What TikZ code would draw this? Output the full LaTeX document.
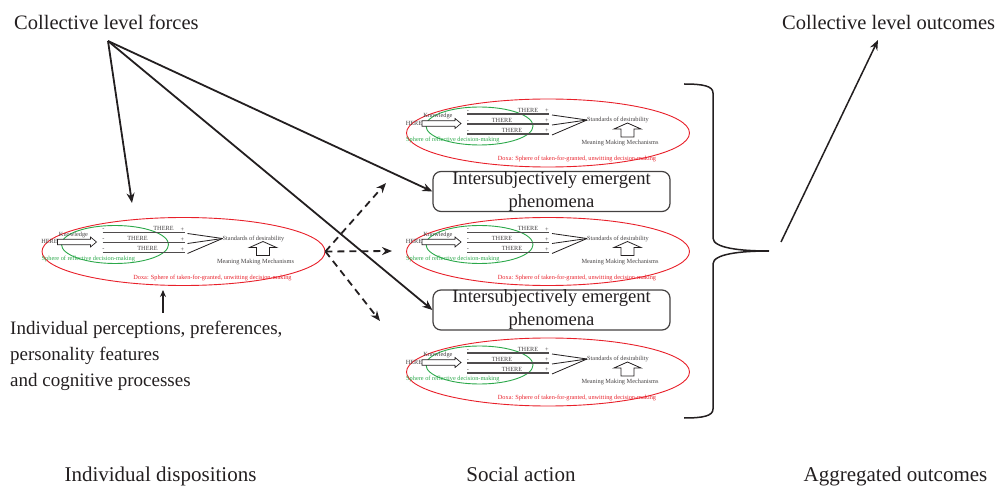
\documentclass[tikz,border=0pt]{standalone}
\usepackage{fontspec}
\setmainfont{Liberation Serif}
\usetikzlibrary{shapes.geometric,arrows.meta}
\definecolor{ink}{HTML}{231F20}
\definecolor{doxared}{HTML}{E8202A}
\definecolor{reflgreen}{HTML}{2BA84A}

\tikzset{
  lbl/.style={text=ink, inner sep=0pt, font=\fontsize{20.5}{24}\selectfont},
  foot/.style={text=ink, inner sep=0pt, font=\fontsize{21}{24}\selectfont},
  mini/.style={text=ink!85, inner sep=0pt, font=\fontsize{6.3}{7}\selectfont},
  miniline/.style={draw=ink!80, line width=1.1pt},
  doxa/.style={draw=doxared, line width=0.9pt, ellipse, inner sep=0pt,
    minimum width=283pt, minimum height=68pt},
  refl/.style={draw=reflgreen, line width=0.9pt, ellipse, inner sep=0pt,
    minimum width=107pt, minimum height=38pt},
  force/.style={draw=ink, line width=1.8pt, -{Stealth[length=10pt,width=8pt]}},
  dasharrow/.style={draw=ink, line width=1.8pt, dash pattern=on 7pt off 5pt,
    -{Stealth[length=10pt,width=8pt]}},
  emerg/.style={draw=ink!85, line width=1.2pt, rounded corners=8pt,
    minimum width=237pt, minimum height=40pt, inner sep=0pt, align=center,
    text=ink, font=\fontsize{18.6}{23}\selectfont},
  % one disposition cluster: doxa sphere, reflective sphere and the
  % HERE -> THERE -> standards scheme
  dispo/.pic={
    \node[doxa] (-doxa) at (0,0) {};
    \node[refl] (-refl) at (-68.5,-7) {};
    \node[mini] (-here) at (-134,-10) {HERE};
    \draw[ink, line width=0.7pt, fill=white]
      (-126,-12.2) -- (-93,-12.2) -- (-93,-14.5) -- (-87,-9.5)
      -- (-93,-4.5) -- (-93,-6.8) -- (-126,-6.8) -- cycle;
    \node[mini] (-know) at (-110,-17) {Knowledge};
    \node[mini, anchor=west] (-std) at (39,-13) {Standards of desirability};
    \foreach \yy/\tx/\i in {-19/-20/1, -9/-46/2, 1/-36/3}{
      \draw[miniline] (-81,\yy) -- (1,\yy);
      \node[mini] (-minus\i) at (-80,\yy-2.5) {-};
      \node[mini] (-plus\i) at (-1,\yy-3) {+};
      \node[mini] (-there\i) at (\tx,\yy-4) {THERE};
      \draw[ink, line width=0.8pt] (4,\yy+1) -- (-std.west);
    }
    \draw[ink, line width=0.8pt, fill=white]
      (73,4) -- (73,-4) -- (66,-4) -- (79.5,-10) -- (93,-4) -- (86,-4)
      -- (86,4) -- cycle;
    \node[mini] (-mmm) at (72,10) {Meaning Making Mechanisms};
    \node[mini, text=reflgreen, anchor=west] (-sph) at (-142,7)
      {Sphere of reflective decision-making};
    \node[mini, text=doxared] (-dx) at (29,26)
      {Doxa: Sphere of taken-for-granted, unwitting decision-making};
  }
}

\begin{document}
\begin{tikzpicture}[x=1pt, y={(0pt,-1pt)}]
  \useasboundingbox (0,0) rectangle (996,486);

  % headings
  \node[lbl, anchor=base west] (forces) at (14,30) {Collective level forces};
  \node[lbl, anchor=base west] (outcomes) at (782,30) {Collective level outcomes};

  % clusters
  \pic (L)  at (183.5,251.5) {dispo};
  \pic (S1) at (548,133)     {dispo};
  \pic (S2) at (548,251.5)   {dispo};
  \pic (S3) at (548,372)     {dispo};

  % emergent phenomena
  \node[emerg] (box1) at (551.5,191.5) {Intersubjectively emergent\\phenomena};
  \node[emerg] (box2) at (551.5,310)   {Intersubjectively emergent\\phenomena};

  % collective forces
  \coordinate (clf) at (108,41);
  \coordinate (clfL) at (132,203);
  \draw[force] (clf) -- (clfL);
  \draw[force] (clf) -- (box1.west);
  \draw[force] (clf) -- (box2.west);

  % social action spreading from the individual
  \coordinate (dUp) at (386,183);
  \coordinate (dMid) at (392,251);
  \coordinate (dDown) at (380,321);
  \draw[dasharrow] (L-doxa.east) -- (dUp);
  \draw[dasharrow] (L-doxa.east) -- (dMid);
  \draw[dasharrow] (L-doxa.east) -- (dDown);

  % individual inputs
  \node[lbl, anchor=north west, align=left, font=\fontsize{19}{26}\selectfont]
    (perc) at (10,321)
    {Individual perceptions, preferences,\\personality features\\and cognitive processes};
  \coordinate (percA) at (163,313);
  \coordinate (percB) at (163,290);
  \draw[ink, line width=1.5pt, -{Stealth[length=7pt,width=6pt]}] (percA) -- (percB);

  % aggregation brace
  \draw[ink, line width=1.5pt]
    (684,84) .. controls (703,84) and (713,86) .. (713,93)
    -- (713,238) .. controls (713,248) and (740,251) .. (769,251)
    .. controls (740,251) and (713,254) .. (713,264)
    -- (713,409) .. controls (713,416) and (703,418) .. (684,418);
  \coordinate (aggA) at (781,242);
  \coordinate (aggB) at (878,40);
  \draw[force, line width=1.5pt] (aggA) -- (aggB);

  % stage labels
  \node[foot, anchor=base] (st1) at (160.5,481) {Individual dispositions};
  \node[foot, anchor=base] (st2) at (521,481)   {Social action};
  \node[foot, anchor=base] (st3) at (895.5,481) {Aggregated outcomes};
\end{tikzpicture}
\end{document}
